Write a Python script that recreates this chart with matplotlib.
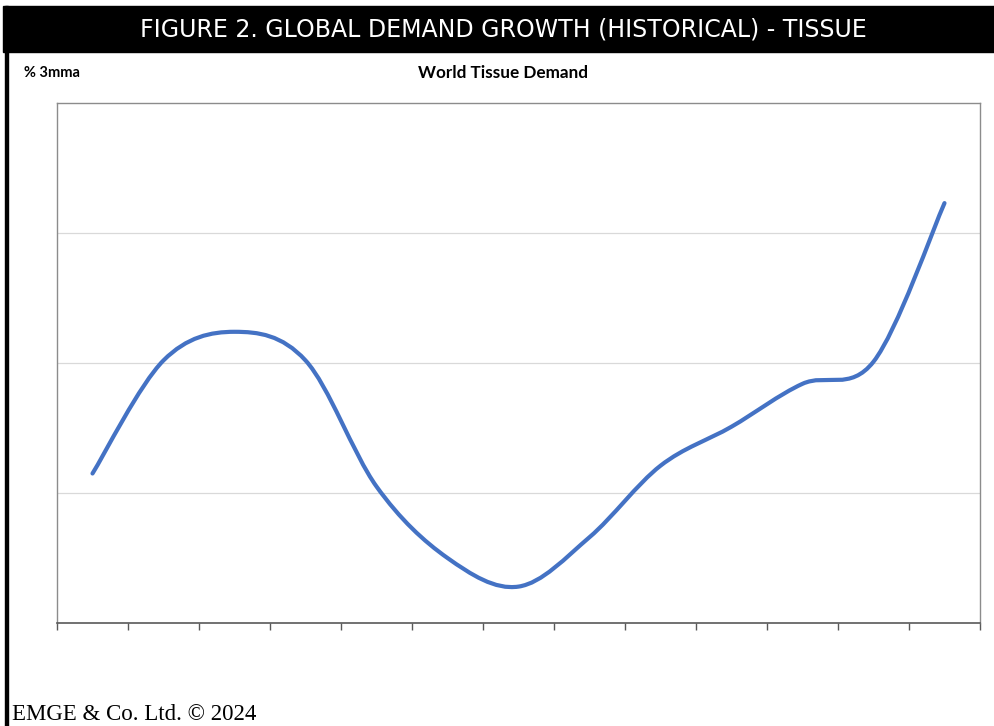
"""World tissue demand chart, Excel-style smoothed line."""
import numpy as np
import matplotlib
matplotlib.use("Agg")
import matplotlib.pyplot as plt
from matplotlib.path import Path
from matplotlib.patches import PathPatch, Rectangle

# 13 periods, % 3mma growth (y-axis 0..4)
periods = list(range(13))
demand = [1.15, 2.02, 2.24, 2.02, 1.05, 0.50, 0.28, 0.66, 1.21, 1.51, 1.84, 2.01, 3.23]
grid_levels = [1, 2, 3]

title = "FIGURE 2. GLOBAL DEMAND GROWTH (HISTORICAL) - TISSUE"
chart_title = "World Tissue Demand"
unit_label = "% 3mma"
footer = "EMGE & Co. Ltd. \u00a9 2024"


def excel_smooth_path(xs, ys):
    """Bezier path like Excel's 'smoothed line'."""
    pts = np.column_stack([xs, ys]).astype(float)
    n = len(pts)
    verts = [pts[0]]
    codes = [Path.MOVETO]
    for i in range(n - 1):
        p0 = pts[i - 1] if i > 0 else pts[i]
        p1 = pts[i]
        p2 = pts[i + 1]
        p3 = pts[i + 2] if i + 2 < n else pts[i + 1]
        c1 = p1 + (p2 - p0) / 6.0
        c2 = p2 - (p3 - p1) / 6.0
        verts += [c1, c2, p2]
        codes += [Path.CURVE4] * 3
    return Path(verts, codes)


fig = plt.figure(figsize=(9.94, 7.26), dpi=100)

# black banner + left border
fig.patches.append(Rectangle((3 / 994, 1 - 52 / 726), 991 / 994, 46 / 726,
                             transform=fig.transFigure, color="black", zorder=0))
fig.patches.append(Rectangle((5 / 994, 0), 3 / 994, 1 - 6 / 726,
                             transform=fig.transFigure, color="black", zorder=0))
fig.text(503 / 994, 1 - 29 / 726, title, color="white", fontsize=17,
         family="DejaVu Sans", ha="center", va="center")
fig.text(24 / 994, 1 - 73 / 726, unit_label, fontsize=10.5, fontweight="bold",
         family="Lato", ha="left", va="center")
fig.text(503 / 994, 1 - 73 / 726, chart_title, fontsize=12.3, fontweight="bold",
         family="Lato", ha="center", va="center")
fig.text(12 / 994, 1 - 715 / 726, footer, fontsize=16.5, family="Liberation Serif",
         ha="left", va="center")

ax = fig.add_axes([57 / 994, 1 - 623 / 726, 923 / 994, 520 / 726])
ax.set_xlim(0, 13)
ax.set_ylim(0, 4)

for g in grid_levels:
    ax.axhline(g, color="#d9d9d9", lw=0.9, zorder=1)

x = np.array(periods) + 0.5
path = excel_smooth_path(x, demand)
ax.add_patch(PathPatch(path, facecolor="none", edgecolor="#4472C4", lw=3.0,
                       capstyle="round", joinstyle="round", zorder=3))

ax.set_xticks(range(14))
ax.set_xticklabels([])
ax.set_yticks([])
ax.tick_params(axis="x", direction="out", length=5, width=1, color="#595959")
for side in ["left", "top", "right"]:
    ax.spines[side].set_color("#8c8c8c")
    ax.spines[side].set_linewidth(1.0)
ax.spines["bottom"].set_color("#595959")
ax.spines["bottom"].set_linewidth(1.2)

fig.savefig("out.png", dpi=100)
